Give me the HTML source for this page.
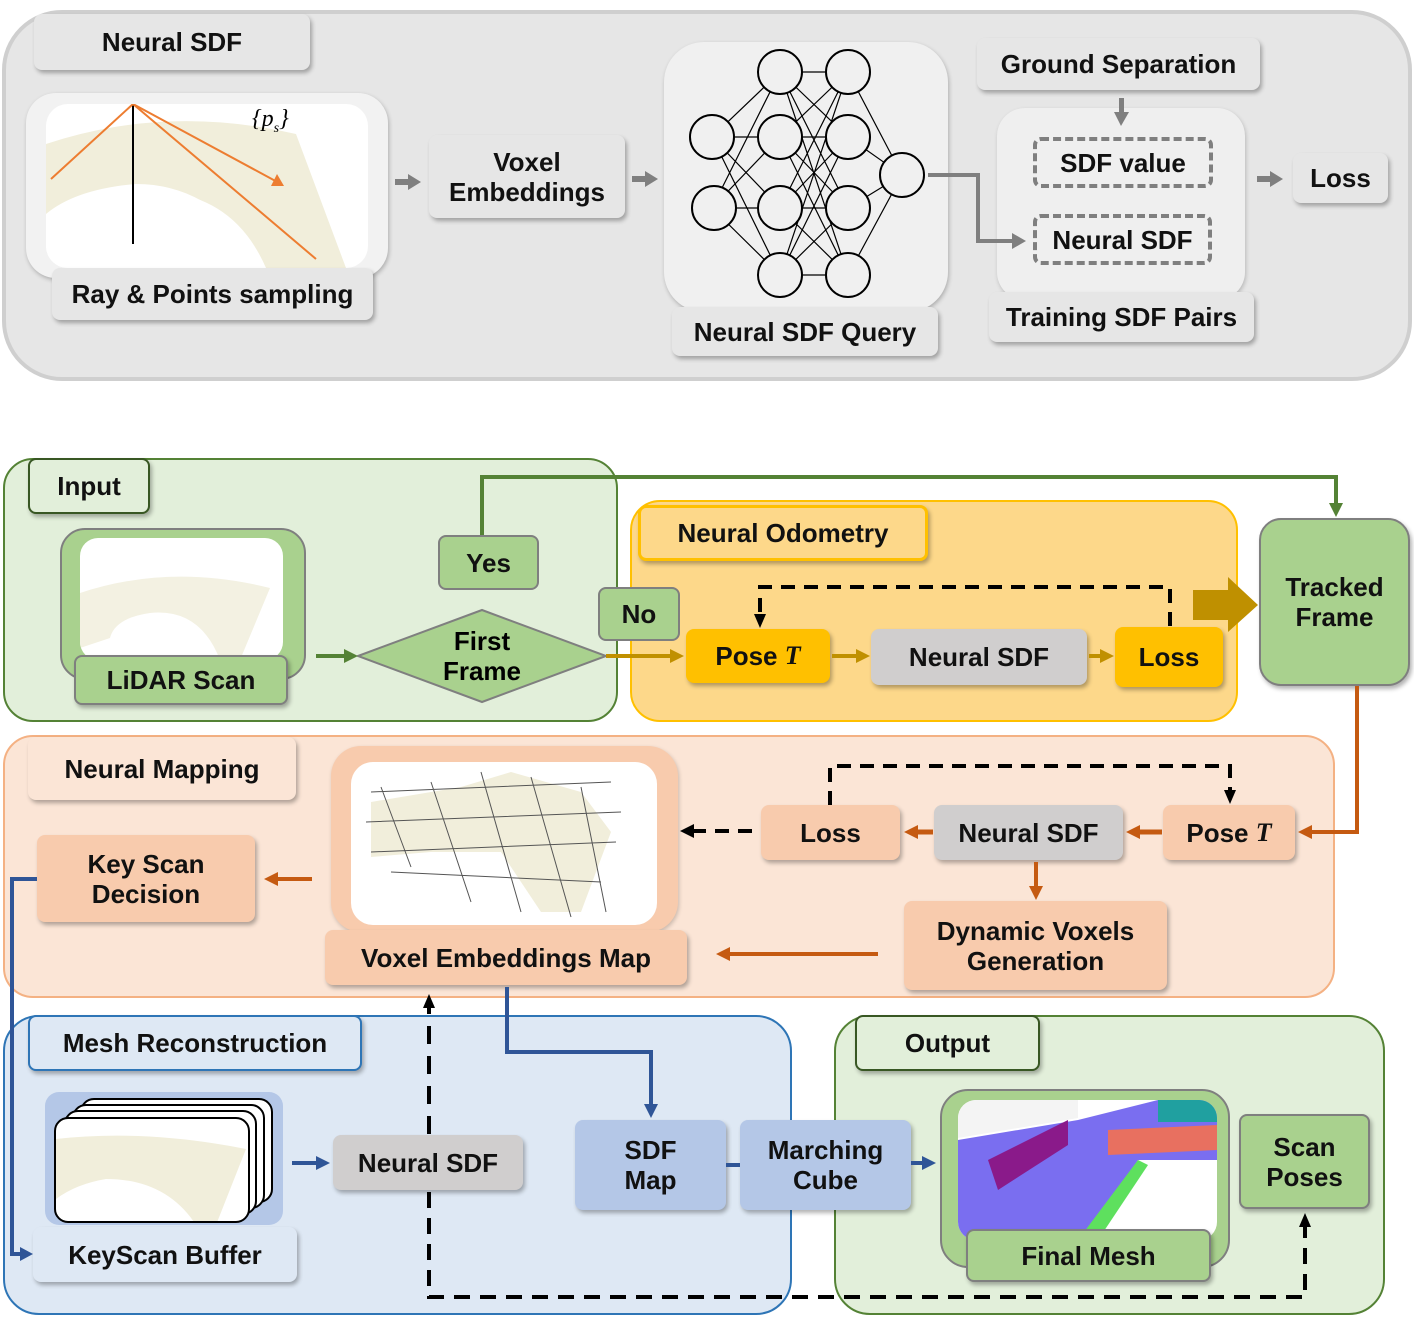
<!DOCTYPE html>
<html><head><meta charset="utf-8"><style>
body{margin:0;width:1414px;height:1317px;background:#fff;position:relative;overflow:hidden;font-family:"Liberation Sans",sans-serif;font-weight:bold;}
.b{position:absolute;box-sizing:border-box;display:flex;align-items:center;justify-content:center;text-align:center;font-size:26px;line-height:30px;color:#111;border-radius:8px;box-shadow:2px 3px 4px rgba(0,0,0,0.3);white-space:nowrap;}
.p{position:absolute;box-sizing:border-box;}
svg{position:absolute;left:0;top:0;}
</style></head><body>
<!-- top panel -->
<div class="p" style="left:2px;top:10px;width:1410px;height:371px;background:#e6e6e6;border:4px solid #cfcfcf;border-radius:60px;"></div>
<div class="b" style="left:34px;top:14px;width:276px;height:56px;background:#e6e6e6;">Neural SDF</div>
<div class="p" style="left:26px;top:93px;width:362px;height:185px;background:#f2f2f2;border-radius:30px;box-shadow:1px 2px 4px rgba(0,0,0,.25)"></div>
<div class="p" style="left:46px;top:104px;width:322px;height:164px;background:#fff;border-radius:22px;overflow:hidden">
<svg width="322" height="164"><path d="M0,40 Q120,0 250,30 L300,164 L220,164 Q170,80 90,80 Q30,85 0,110Z" fill="#f1eedb"/><path d="M0,118 Q60,85 120,88 Q190,95 220,164 L0,164Z" fill="#fff"/><line x1="87" y1="0" x2="87" y2="140" stroke="#000" stroke-width="2"/><path d="M87,0 L5,75 M87,0 L270,155 M87,0 L235,80" stroke="#ed7d31" stroke-width="2" fill="none"/><polygon points="225,82 238,82 231,70" fill="#ed7d31"/></svg></div>
<div class="p" style="left:252px;top:106px;font:italic 24px 'Liberation Serif',serif;">{<i>p<sub style="font-size:14px">s</sub></i>}</div>
<div class="b" style="left:52px;top:268px;width:321px;height:52px;background:#e6e6e6;">Ray &amp; Points sampling</div>
<div class="b" style="left:429px;top:135px;width:196px;height:83px;background:#e6e6e6;">Voxel<br>Embeddings</div>
<div class="p" style="left:664px;top:42px;width:284px;height:270px;background:#f0f0f0;border-radius:40px;box-shadow:1px 2px 4px rgba(0,0,0,.25)"></div>
<div class="b" style="left:672px;top:307px;width:266px;height:49px;background:#e6e6e6;">Neural SDF Query</div>
<div class="b" style="left:977px;top:38px;width:283px;height:52px;background:#e6e6e6;">Ground Separation</div>
<div class="p" style="left:997px;top:108px;width:248px;height:192px;background:#efefef;border-radius:28px;box-shadow:1px 2px 4px rgba(0,0,0,.2)"></div>
<div class="b" style="left:1033px;top:137px;width:180px;height:51px;border:4px dashed #7f7f7f;box-shadow:none;">SDF value</div>
<div class="b" style="left:1033px;top:214px;width:179px;height:51px;border:4px dashed #7f7f7f;box-shadow:none;">Neural SDF</div>
<div class="b" style="left:989px;top:292px;width:265px;height:50px;background:#e6e6e6;">Training SDF Pairs</div>
<div class="b" style="left:1293px;top:153px;width:95px;height:50px;background:#e6e6e6;">Loss</div>

<!-- bottom panels -->
<div class="p" style="left:3px;top:458px;width:615px;height:264px;background:#e2efda;border:2px solid #548235;border-radius:30px;"></div>
<div class="p" style="left:630px;top:500px;width:608px;height:222px;background:#fdd88a;border:2px solid #ffc000;border-radius:30px;"></div>
<div class="p" style="left:3px;top:735px;width:1332px;height:263px;background:#fbe5d6;border:2px solid #f4b183;border-radius:30px;"></div>
<div class="p" style="left:3px;top:1015px;width:789px;height:300px;background:#dee8f4;border:2px solid #2e75b6;border-radius:36px;"></div>
<div class="p" style="left:834px;top:1015px;width:551px;height:300px;background:#e2efda;border:2px solid #548235;border-radius:36px;"></div>

<div class="b" style="left:28px;top:458px;width:122px;height:56px;background:#e2efda;border:2px solid #385723;">Input</div>
<div class="p" style="left:60px;top:528px;width:246px;height:152px;background:#a9d18e;border:2px solid #7f7f7f;border-radius:25px;"></div>
<div class="p" style="left:80px;top:538px;width:203px;height:122px;background:#fff;border-radius:18px;overflow:hidden"><svg width="203" height="122"><path d="M0,55 Q90,25 190,50 L160,122 L140,122 Q120,70 70,75 Q35,80 30,100 L0,110Z" fill="#f3f1e2"/></svg></div>
<div class="b" style="left:74px;top:655px;width:214px;height:50px;background:#a9d18e;border:2px solid #7f7f7f;">LiDAR Scan</div>
<svg width="1414" height="1317" style="z-index:0">
<polygon points="358,656 482,610 606,656 482,702" fill="#a9d18e" stroke="#7f7f7f" stroke-width="2"/>
</svg>
<div class="p" style="left:420px;top:626px;width:124px;font-size:26px;line-height:30px;text-align:center">First<br>Frame</div>
<div class="b" style="left:438px;top:535px;width:101px;height:55px;background:#a9d18e;border:2px solid #7f7f7f;box-shadow:none">Yes</div>
<div class="b" style="left:598px;top:587px;width:82px;height:54px;background:#a9d18e;border:2px solid #7f7f7f;box-shadow:none">No</div>

<div class="b" style="left:638px;top:505px;width:290px;height:56px;background:#fdd88a;border:3px solid #ffc000;">Neural Odometry</div>
<div class="b" style="left:686px;top:629px;width:144px;height:54px;background:#ffc000;">Pose&nbsp;<i style="font-family:'Liberation Serif',serif">T</i></div>
<div class="b" style="left:871px;top:629px;width:216px;height:56px;background:#d0cece;">Neural SDF</div>
<div class="b" style="left:1115px;top:627px;width:108px;height:60px;background:#ffc000;">Loss</div>
<div class="b" style="left:1259px;top:518px;width:151px;height:168px;background:#a9d18e;border:2px solid #7f7f7f;border-radius:22px;">Tracked<br>Frame</div>

<div class="b" style="left:28px;top:737px;width:268px;height:63px;background:#fbe5d6;">Neural Mapping</div>
<div class="b" style="left:37px;top:835px;width:218px;height:87px;background:#f8cbad;">Key Scan<br>Decision</div>
<div class="p" style="left:331px;top:746px;width:347px;height:186px;background:#f8cbad;border-radius:30px;box-shadow:1px 2px 4px rgba(0,0,0,.2)"></div>
<div class="p" style="left:351px;top:762px;width:306px;height:163px;background:#fff;border-radius:22px;overflow:hidden"><svg width="306" height="163"><path d="M20,40 L110,25 L160,10 L230,30 L260,70 L230,150 L190,150 L150,90 L80,90 L20,95Z" fill="#f1eedb"/><g stroke="#555" fill="none" stroke-width="1"><path d="M20,30 L260,20 M15,60 L270,50 M20,90 L265,80 M40,110 L250,120 M80,20 L120,140 M130,10 L170,150 M180,15 L220,155 M230,25 L255,150 M30,25 L60,105"/></g></svg></div>
<div class="b" style="left:325px;top:930px;width:362px;height:55px;background:#f8cbad;">Voxel Embeddings Map</div>
<div class="b" style="left:761px;top:805px;width:139px;height:55px;background:#f8cbad;">Loss</div>
<div class="b" style="left:934px;top:805px;width:189px;height:55px;background:#d0cece;">Neural SDF</div>
<div class="b" style="left:1163px;top:805px;width:132px;height:55px;background:#f8cbad;">Pose&nbsp;<i style="font-family:'Liberation Serif',serif">T</i></div>
<div class="b" style="left:904px;top:901px;width:263px;height:89px;background:#f8cbad;">Dynamic Voxels<br>Generation</div>

<div class="b" style="left:28px;top:1015px;width:334px;height:56px;background:#dee8f4;border:2px solid #2e75b6;">Mesh Reconstruction</div>
<div class="p" style="left:45px;top:1092px;width:238px;height:133px;background:#b4c7e7;border-radius:14px;"></div>
<div class="p" style="left:80px;top:1098px;width:193px;height:105px;background:#fff;border:2px solid #000;border-radius:14px;"></div>
<div class="p" style="left:72px;top:1104px;width:193px;height:105px;background:#fff;border:2px solid #000;border-radius:14px;"></div>
<div class="p" style="left:64px;top:1110px;width:193px;height:105px;background:#fff;border:2px solid #000;border-radius:14px;"></div>
<div class="p" style="left:54px;top:1117px;width:196px;height:106px;background:#fff;border:2px solid #000;border-radius:14px;overflow:hidden"><svg width="196" height="106"><path d="M0,20 Q90,10 190,30 L160,106 L140,106 Q110,60 50,60 Q20,65 0,80Z" fill="#f1eedb"/></svg></div>
<div class="b" style="left:33px;top:1227px;width:264px;height:55px;background:#dee8f4;">KeyScan Buffer</div>
<div class="b" style="left:333px;top:1135px;width:190px;height:55px;background:#d0cece;">Neural SDF</div>
<div class="b" style="left:575px;top:1120px;width:151px;height:90px;background:#b4c7e7;">SDF<br>Map</div>
<div class="b" style="left:740px;top:1120px;width:171px;height:90px;background:#b4c7e7;">Marching<br>Cube</div>

<div class="b" style="left:855px;top:1015px;width:185px;height:56px;background:#e2efda;border:2px solid #385723;">Output</div>
<div class="p" style="left:940px;top:1089px;width:290px;height:179px;background:#a9d18e;border:2px solid #7f7f7f;border-radius:28px;"></div>
<div class="p" style="left:958px;top:1100px;width:259px;height:140px;background:#fff;border-radius:18px;overflow:hidden"><svg width="259" height="140"><polygon points="0,40 120,20 200,0 259,0 259,60 180,60 130,140 0,140" fill="#7a6ef0"/><polygon points="30,60 110,20 110,45 40,90" fill="#8a1a8a"/><polygon points="150,30 259,25 259,50 150,55" fill="#e87060"/><polygon points="120,140 180,60 190,65 140,140" fill="#5ee05e"/><polygon points="0,0 120,0 120,18 0,38" fill="#f4f4f4"/><polygon points="200,0 259,0 259,22 200,22" fill="#20a0a0"/></svg></div>
<div class="b" style="left:966px;top:1229px;width:245px;height:53px;background:#a9d18e;border:2px solid #7f7f7f;">Final Mesh</div>
<div class="b" style="left:1239px;top:1114px;width:131px;height:95px;background:#a9d18e;border:2px solid #7f7f7f;">Scan<br>Poses</div>

<svg width="1414" height="1317">
<!-- top arrows -->
<g fill="#7f7f7f">
<rect x="395" y="179" width="14" height="6"/><polygon points="408,174 421,182 408,190"/>
<rect x="632" y="176" width="14" height="6"/><polygon points="645,171 658,179 645,187"/>
<rect x="1257" y="176" width="14" height="6"/><polygon points="1270,171 1283,179 1270,187"/>
<rect x="1119" y="98" width="5" height="16"/><polygon points="1114,112 1129,112 1121,126"/>
</g>
<polyline points="928,175 978,175 978,241 1014,241" fill="none" stroke="#7f7f7f" stroke-width="4"/>
<polygon points="1012,233 1026,241 1012,249" fill="#7f7f7f"/>
<!-- NN -->
<g stroke="#000" stroke-width="1.2">
<path d="M712,137 L780,72 M712,137 L780,137 M712,137 L780,208 M712,137 L780,275 M712,208 L780,72 M712,208 L780,137 M712,208 L780,208 M712,208 L780,275
M780,72 L848,72 M780,72 L848,137 M780,72 L848,208 M780,72 L848,275 M780,137 L848,72 M780,137 L848,137 M780,137 L848,208 M780,137 L848,275
M780,208 L848,72 M780,208 L848,137 M780,208 L848,208 M780,208 L848,275 M780,275 L848,72 M780,275 L848,137 M780,275 L848,208 M780,275 L848,275
M848,72 L902,175 M848,137 L902,175 M848,208 L902,175 M848,275 L902,175"/>
</g>
<g fill="#f0f0f0" stroke="#000" stroke-width="2">
<circle cx="712" cy="137" r="22"/><circle cx="714" cy="208" r="22"/>
<circle cx="780" cy="72" r="22"/><circle cx="780" cy="137" r="22"/><circle cx="780" cy="208" r="22"/><circle cx="780" cy="275" r="22"/>
<circle cx="848" cy="72" r="22"/><circle cx="848" cy="137" r="22"/><circle cx="848" cy="208" r="22"/><circle cx="848" cy="275" r="22"/>
<circle cx="902" cy="175" r="22"/>
</g>
<!-- input -->
<line x1="316" y1="656" x2="346" y2="656" stroke="#548235" stroke-width="4"/><polygon points="344,649 358,656 344,663" fill="#548235"/>
<polyline points="482,535 482,477 1336,477 1336,505" fill="none" stroke="#548235" stroke-width="4"/><polygon points="1329,503 1343,503 1336,517" fill="#548235"/>
<line x1="606" y1="656" x2="672" y2="656" stroke="#c09000" stroke-width="4"/><polygon points="670,649 684,656 670,663" fill="#c09000"/>
<line x1="832" y1="656" x2="858" y2="656" stroke="#c09000" stroke-width="4"/><polygon points="856,649 870,656 856,663" fill="#c09000"/>
<line x1="1089" y1="656" x2="1102" y2="656" stroke="#c09000" stroke-width="4"/><polygon points="1100,649 1114,656 1100,663" fill="#c09000"/>
<polyline points="1170,626 1170,587 760,587 760,616" fill="none" stroke="#000" stroke-width="4" stroke-dasharray="14,9"/><polygon points="754,614 766,614 760,628" fill="#000"/>
<polygon points="1193,590 1228,590 1228,577 1258,605 1228,632 1228,620 1193,620" fill="#bf9000"/>
<!-- mapping -->
<polyline points="1357,686 1357,832 1310,832" fill="none" stroke="#c55a11" stroke-width="4"/><polygon points="1312,825 1298,832 1312,839" fill="#c55a11"/>
<line x1="1162" y1="832" x2="1138" y2="832" stroke="#c55a11" stroke-width="5"/><polygon points="1140,825 1126,832 1140,839" fill="#c55a11"/>
<line x1="933" y1="832" x2="916" y2="832" stroke="#c55a11" stroke-width="5"/><polygon points="918,825 904,832 918,839" fill="#c55a11"/>
<line x1="1036" y1="862" x2="1036" y2="888" stroke="#c55a11" stroke-width="4"/><polygon points="1029,886 1043,886 1036,900" fill="#c55a11"/>
<line x1="878" y1="954" x2="728" y2="954" stroke="#c55a11" stroke-width="4"/><polygon points="730,947 716,954 730,961" fill="#c55a11"/>
<line x1="312" y1="879" x2="276" y2="879" stroke="#c55a11" stroke-width="4"/><polygon points="278,872 264,879 278,886" fill="#c55a11"/>
<line x1="752" y1="831" x2="693" y2="831" stroke="#000" stroke-width="4" stroke-dasharray="14,9"/><polygon points="694,824 680,831 694,838" fill="#000"/>
<polyline points="830,805 830,766 1230,766 1230,790" fill="none" stroke="#000" stroke-width="4" stroke-dasharray="14,9"/><polygon points="1224,790 1236,790 1230,804" fill="#000"/>
<!-- mesh -->
<polyline points="37,879 12,879 12,1254 22,1254" fill="none" stroke="#2f5597" stroke-width="4"/><polygon points="20,1247 33,1254 20,1261" fill="#2f5597"/>
<line x1="292" y1="1163" x2="318" y2="1163" stroke="#2f5597" stroke-width="4"/><polygon points="316,1156 330,1163 316,1170" fill="#2f5597"/>
<polyline points="507,987 507,1052 651,1052 651,1106" fill="none" stroke="#2f5597" stroke-width="4"/><polygon points="644,1104 658,1104 651,1118" fill="#2f5597"/>
<line x1="726" y1="1165" x2="740" y2="1165" stroke="#2f5597" stroke-width="4"/>
<line x1="911" y1="1163" x2="924" y2="1163" stroke="#2f5597" stroke-width="4"/><polygon points="922,1156 936,1163 922,1170" fill="#2f5597"/>
<line x1="429" y1="1134" x2="429" y2="1008" stroke="#000" stroke-width="4" stroke-dasharray="18,12"/><polygon points="423,1008 435,1008 429,994" fill="#000"/>
<polyline points="429,1192 429,1297 1305,1297 1305,1226" fill="none" stroke="#000" stroke-width="4" stroke-dasharray="16,10"/><polygon points="1299,1227 1311,1227 1305,1213" fill="#000"/>
</svg>
</body></html>
